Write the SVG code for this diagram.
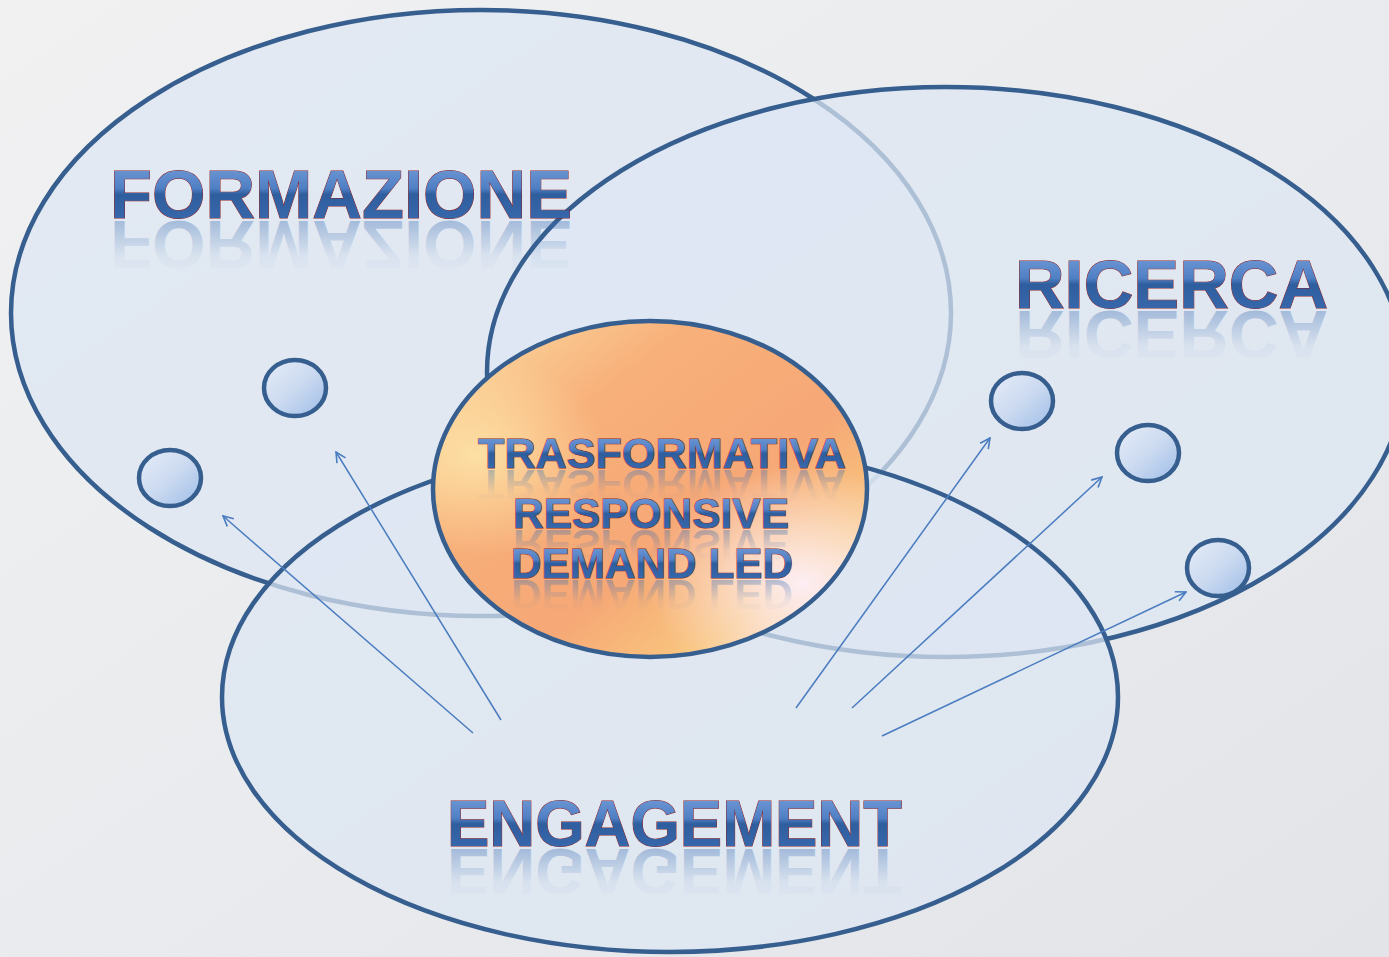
<svg xmlns="http://www.w3.org/2000/svg" width="1389" height="957" viewBox="0 0 1389 957">
<defs>
<linearGradient id="bg" x1="0" y1="0" x2="1" y2="1">
<stop offset="0" stop-color="#f1f1f2"/>
<stop offset="0.6" stop-color="#e8eaed"/>
<stop offset="1" stop-color="#e2e4e8"/>
</linearGradient>
<linearGradient id="txt" x1="0" y1="0" x2="0" y2="1">
<stop offset="0" stop-color="#7da3dc"/>
<stop offset="0.42" stop-color="#4f7fc4"/>
<stop offset="0.5" stop-color="#2f5e9e"/>
<stop offset="1" stop-color="#3b6db2"/>
</linearGradient>
<linearGradient id="refl" x1="0" y1="0" x2="0" y2="1">
<stop offset="0" stop-color="#3b6db2" stop-opacity="0"/>
<stop offset="0.35" stop-color="#3b6db2" stop-opacity="0.05"/>
<stop offset="1" stop-color="#3b6db2" stop-opacity="0.5"/>
</linearGradient>
<linearGradient id="dot" x1="0" y1="0" x2="1" y2="1">
<stop offset="0" stop-color="#e6edf8"/>
<stop offset="0.5" stop-color="#ccdaf0"/>
<stop offset="1" stop-color="#9dbde8"/>
</linearGradient>
<linearGradient id="core" x1="0" y1="0" x2="1" y2="1">
<stop offset="0" stop-color="#fbe0a6"/>
<stop offset="0.3" stop-color="#f8b07a"/>
<stop offset="0.6" stop-color="#f6a876"/>
<stop offset="0.8" stop-color="#f9c67e"/>
<stop offset="1" stop-color="#fbe6e0"/>
</linearGradient>
<radialGradient id="corehl" cx="0.85" cy="0.78" r="0.35">
<stop offset="0" stop-color="#fdeef4" stop-opacity="1"/>
<stop offset="1" stop-color="#fdeef4" stop-opacity="0"/>
</radialGradient>
<radialGradient id="corehl2" cx="0.1" cy="0.4" r="0.3">
<stop offset="0" stop-color="#fde4a8" stop-opacity="0.9"/>
<stop offset="1" stop-color="#fde4a8" stop-opacity="0"/>
</radialGradient>
<marker id="arr" viewBox="0 0 12 12" refX="11" refY="6" markerWidth="12" markerHeight="12" markerUnits="userSpaceOnUse" orient="auto">
<path d="M1,1 L11,6 L1,11" fill="none" stroke="#4a7cc0" stroke-width="1.6"/>
</marker>
</defs>
<style>
.big{font-family:"Liberation Sans",Arial,sans-serif;font-weight:bold;fill:url(#txt);stroke:#8e1f22;stroke-width:1;paint-order:stroke}
.rf{font-family:"Liberation Sans",Arial,sans-serif;font-weight:bold;fill:url(#refl);stroke:none}
.set{fill:#dce6f2;fill-opacity:0.72;stroke:#365e8e;stroke-width:4.5}
.dot{fill:url(#dot);stroke:#365e8e;stroke-width:4.5}
.con{stroke:#4a7cc0;stroke-width:1.5;fill:none;marker-end:url(#arr)}
</style>
<rect width="1389" height="957" fill="url(#bg)"/>
<g id="formazione">
<ellipse class="set" cx="481" cy="313" rx="470" ry="303"/>
</g>
<g id="ricerca">
<ellipse class="set" cx="946" cy="372" rx="459" ry="285"/>
</g>
<g id="engagement">
<ellipse class="set" cx="670" cy="697" rx="448" ry="255"/>
</g>
<g id="labels">
<text class="big" x="110" y="218" font-size="69" textLength="462" lengthAdjust="spacingAndGlyphs">FORMAZIONE</text>
<text class="rf" x="110" y="-221" font-size="69" textLength="462" lengthAdjust="spacingAndGlyphs" transform="scale(1,-1)">FORMAZIONE</text>
<text class="big" x="1015" y="308" font-size="69" textLength="313" lengthAdjust="spacingAndGlyphs">RICERCA</text>
<text class="rf" x="1015" y="-311" font-size="69" textLength="313" lengthAdjust="spacingAndGlyphs" transform="scale(1,-1)">RICERCA</text>
<text class="big" x="447" y="846" font-size="64" textLength="455" lengthAdjust="spacingAndGlyphs">ENGAGEMENT</text>
<text class="rf" x="447" y="-849" font-size="64" textLength="455" lengthAdjust="spacingAndGlyphs" transform="scale(1,-1)">ENGAGEMENT</text>
</g>
<g id="items">
<ellipse class="dot" cx="295" cy="388" rx="31" ry="28"/>
<ellipse class="dot" cx="170" cy="478" rx="31" ry="28"/>
<ellipse class="dot" cx="1022" cy="401" rx="31" ry="28"/>
<ellipse class="dot" cx="1148" cy="453" rx="31" ry="28"/>
<ellipse class="dot" cx="1218" cy="568" rx="31" ry="28"/>
</g>
<g id="connectors">
<line class="con" x1="473" y1="733" x2="223" y2="516"/>
<line class="con" x1="501" y1="720" x2="336" y2="452"/>
<line class="con" x1="796" y1="708" x2="990" y2="438"/>
<line class="con" x1="852" y1="708" x2="1102" y2="477"/>
<line class="con" x1="882" y1="736" x2="1186" y2="592"/>
</g>
<g id="center">
<ellipse cx="650" cy="489" rx="217" ry="168" fill="url(#core)"/>
<ellipse cx="650" cy="489" rx="217" ry="168" fill="url(#corehl2)"/>
<ellipse cx="650" cy="489" rx="217" ry="168" fill="url(#corehl)"/>
<ellipse cx="650" cy="489" rx="217" ry="168" fill="none" stroke="#365e8e" stroke-width="4.5"/>
<text class="big" x="662" y="468" font-size="42" text-anchor="middle" textLength="368" lengthAdjust="spacingAndGlyphs">TRASFORMATIVA</text>
<text class="rf" x="662" y="-470" font-size="42" text-anchor="middle" textLength="368" lengthAdjust="spacingAndGlyphs" transform="scale(1,-1)">TRASFORMATIVA</text>
<text class="big" x="651" y="528" font-size="42" text-anchor="middle" textLength="276" lengthAdjust="spacingAndGlyphs">RESPONSIVE</text>
<text class="rf" x="651" y="-530" font-size="42" text-anchor="middle" textLength="276" lengthAdjust="spacingAndGlyphs" transform="scale(1,-1)">RESPONSIVE</text>
<text class="big" x="652" y="578" font-size="42" text-anchor="middle" textLength="282" lengthAdjust="spacingAndGlyphs">DEMAND LED</text>
<text class="rf" x="652" y="-580" font-size="42" text-anchor="middle" textLength="282" lengthAdjust="spacingAndGlyphs" transform="scale(1,-1)">DEMAND LED</text>
</g>
</svg>
